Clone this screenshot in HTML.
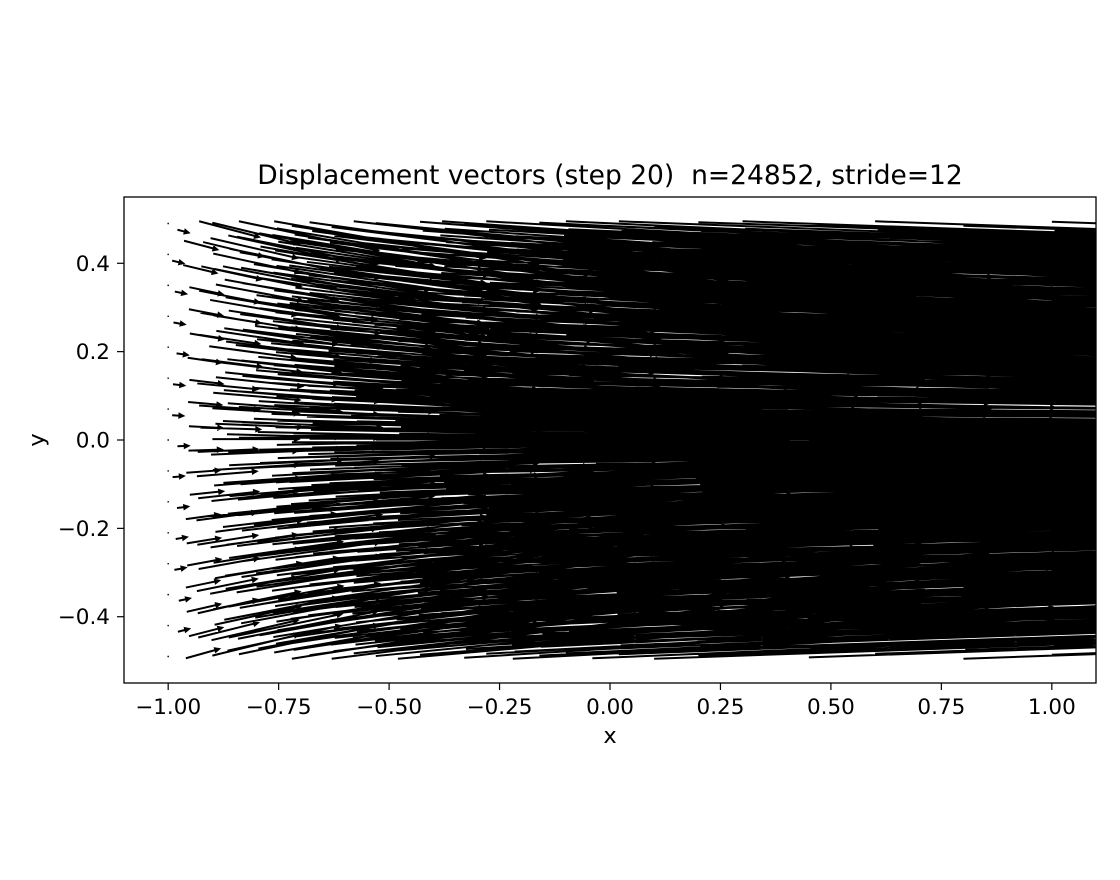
<!DOCTYPE html>
<html><head><meta charset="utf-8">
<style>
html,body{margin:0;padding:0;background:#fff;}
svg{display:block;font-family:"DejaVu Sans","Liberation Sans",sans-serif;}
</style></head>
<body>
<svg id="chart" width="1120" height="880" viewBox="0 0 1120 880" xmlns="http://www.w3.org/2000/svg">
<rect width="1120" height="880" fill="#fff"/>
<defs><clipPath id="plotclip"><rect x="124" y="197" width="972" height="486"/></clipPath></defs>
<text x="610" y="184" font-size="26.5" text-anchor="middle" xml:space="preserve">Displacement vectors (step 20)  n=24852, stride=12</text>
<g id="arrows" clip-path="url(#plotclip)"></g>
<rect x="124" y="197" width="972" height="486" fill="none" stroke="#000" stroke-width="1.3"/>
<g id="xticks"></g>
<g id="yticks"></g>
<text x="610" y="743" font-size="22.5" text-anchor="middle">x</text>
<text x="44" y="440" font-size="22.5" text-anchor="middle" transform="rotate(-90 44 440)">y</text>
</svg>
<script>
const xs = [-1.0,-0.985,-0.96,-0.93,-0.9,-0.87,-0.84,-0.8,-0.76,-0.72,-0.68,-0.63,-0.58,-0.53,-0.48,-0.43,-0.38,-0.33,-0.28,-0.22,-0.16,-0.1,-0.04,0.02,0.1,0.2,0.3,0.45,0.6,0.8,1.0];
const us = [0,0.03,0.08,0.14,0.2,0.26,0.32,0.4,0.48,0.56,0.64,0.74,0.84,0.94,1.04,1.14,1.24,1.34,1.44,1.56,1.68,1.8,1.92,2.04,2.2,2.4,2.6,2.9,3.2,3.6,4.0];
const slopeScale = [1,8,8,7.5,7,6.5,6,5.5,5,4.5,4,3.6,3.2,2.8,2.5,2.2,2,1.8,1.6,1.5,1.4,1.3,1.2,1.1,1,1,1,1,1,1,1];
const rowStride = [4,4,3,3,2,2,2,2,1,1,1,1,1,1,1,1,1,1,1,1,1,1,1,1,1,1,1,1,1,1,1];
const yShift = [0,0.006,-0.004,0.008,0.002,-0.007,0.005,-0.002,0.009,-0.005,0.003,-0.008,0.007,0.001,-0.006,0.004,0.008,-0.003,0.006,-0.009,0.002,0.007,-0.004,0.005,-0.007,0.003,0.008,-0.002,0.006,-0.005,0.004];
const ys = [0.49,0.47,0.455,0.44,0.42,0.40,0.385,0.37,0.35,0.33,0.315,0.30,0.28,0.26,0.245,0.23,0.21,0.19,0.175,0.16,0.14,0.12,0.105,0.09,0.07,0.05,0.035,0.02,0.0,-0.02,-0.035,-0.05,-0.07,-0.09,-0.105,-0.12,-0.14,-0.16,-0.175,-0.19,-0.21,-0.23,-0.245,-0.26,-0.28,-0.30,-0.315,-0.33,-0.35,-0.37,-0.385,-0.40,-0.42,-0.44,-0.455,-0.47,-0.49];
const vRatio = [-0.035,-0.034,-0.033,-0.032,-0.031,-0.03,-0.029,-0.028,-0.027,-0.026,-0.025,-0.024,-0.023,-0.022,-0.021,-0.02,-0.019,-0.018,-0.017,-0.016,-0.015,-0.013,-0.012,-0.011,-0.009,-0.007,-0.006,-0.004,0.0,0.004,0.006,0.007,0.009,0.011,0.012,0.013,0.015,0.016,0.017,0.018,0.019,0.02,0.021,0.022,0.023,0.024,0.025,0.026,0.027,0.028,0.029,0.03,0.031,0.032,0.033,0.034,0.035];
const xOffset = [0.0,0.012,-0.008,0.018,0.004,-0.012,0.01,-0.004,0.016,0.0,-0.01,0.014,0.006,-0.006,0.018,0.002,-0.014,0.008,0.012,-0.002,0.016,-0.008,0.004,0.01,0.0,-0.012,0.014,0.006,0.0,0.012,-0.006,0.016,0.002,-0.01,0.008,0.018,-0.004,0.01,0.0,-0.012,0.014,0.004,-0.008,0.016,0.006,-0.002,0.012,0.0,-0.01,0.018,0.004,-0.006,0.01,0.014,-0.004,0.008,0.0];
const xTickVals = [-1.0,-0.75,-0.5,-0.25,0.0,0.25,0.5,0.75,1.0];
const xTickLabels = ["\u22121.00","\u22120.75","\u22120.50","\u22120.25","0.00","0.25","0.50","0.75","1.00"];
const yTickVals = [0.4,0.2,0.0,-0.2,-0.4];
const yTickLabels = ["0.4","0.2","0.0","\u22120.2","\u22120.4"];

const NS="http://www.w3.org/2000/svg";
const X0=124, Y0=197, S=972/2.2;
function sx(x){return X0+(x+1.1)*S;}
function sy(y){return Y0+(0.55-y)*S;}

const g=document.getElementById('arrows');
let d="";
for(let c=0;c<xs.length;c++){
  for(let r=(c%rowStride[c]);r<ys.length;r+=rowStride[c]){
    let x0=xs[c]+(c>0?xOffset[r]*0.5:0);
    if(x0<-1) x0=-1;
    let y0=ys[r]+yShift[c];
    if(y0>0.495) y0=0.495; if(y0<-0.495) y0=-0.495;
    const u=us[c], v=u*vRatio[r]*slopeScale[c];
    const px=sx(x0), py=sy(y0), qx=sx(x0+u), qy=sy(y0+v);
    const L=Math.hypot(qx-px,qy-py);
    if(L<1){ d+=`M${px-0.7},${py-0.7}h1.4v1.4h-1.4z`; continue; }
    const ux=(qx-px)/L, uy=(qy-py)/L, nx=-uy, ny=ux;
    const hw=1.0, hl=Math.min(7,L), hh=3.3;
    const bx=qx-ux*hl, by=qy-uy*hl;
    d+=`M${(px+nx*hw).toFixed(1)},${(py+ny*hw).toFixed(1)}L${(bx+nx*hw).toFixed(1)},${(by+ny*hw).toFixed(1)}L${(bx+nx*hh).toFixed(1)},${(by+ny*hh).toFixed(1)}L${qx.toFixed(1)},${qy.toFixed(1)}L${(bx-nx*hh).toFixed(1)},${(by-ny*hh).toFixed(1)}L${(bx-nx*hw).toFixed(1)},${(by-ny*hw).toFixed(1)}L${(px-nx*hw).toFixed(1)},${(py-ny*hw).toFixed(1)}Z`;
  }
}
const p=document.createElementNS(NS,'path');
p.setAttribute('d',d);
p.setAttribute('fill','#000');


g.appendChild(p);

const xg=document.getElementById('xticks');
xTickVals.forEach((v,i)=>{
  const x=sx(v);
  const t=document.createElementNS(NS,'line');
  t.setAttribute('x1',x);t.setAttribute('x2',x);t.setAttribute('y1',683);t.setAttribute('y2',690);
  t.setAttribute('stroke','#000');t.setAttribute('stroke-width','1.2');
  
  
  xg.appendChild(t);
  const l=document.createElementNS(NS,'text');
  l.setAttribute('x',x);l.setAttribute('y',714);l.setAttribute('font-size','21.5');l.setAttribute('text-anchor','middle');
  l.textContent=xTickLabels[i];
  
  
  xg.appendChild(l);
});
const yg=document.getElementById('yticks');
yTickVals.forEach((v,i)=>{
  const y=sy(v);
  const t=document.createElementNS(NS,'line');
  t.setAttribute('x1',117);t.setAttribute('x2',124);t.setAttribute('y1',y);t.setAttribute('y2',y);
  t.setAttribute('stroke','#000');t.setAttribute('stroke-width','1.2');
  
  
  yg.appendChild(t);
  const l=document.createElementNS(NS,'text');
  l.setAttribute('x',110);l.setAttribute('y',y+7.5);l.setAttribute('font-size','21.5');l.setAttribute('text-anchor','end');
  l.textContent=yTickLabels[i];
  
  
  yg.appendChild(l);
});
</script>
</body></html>
